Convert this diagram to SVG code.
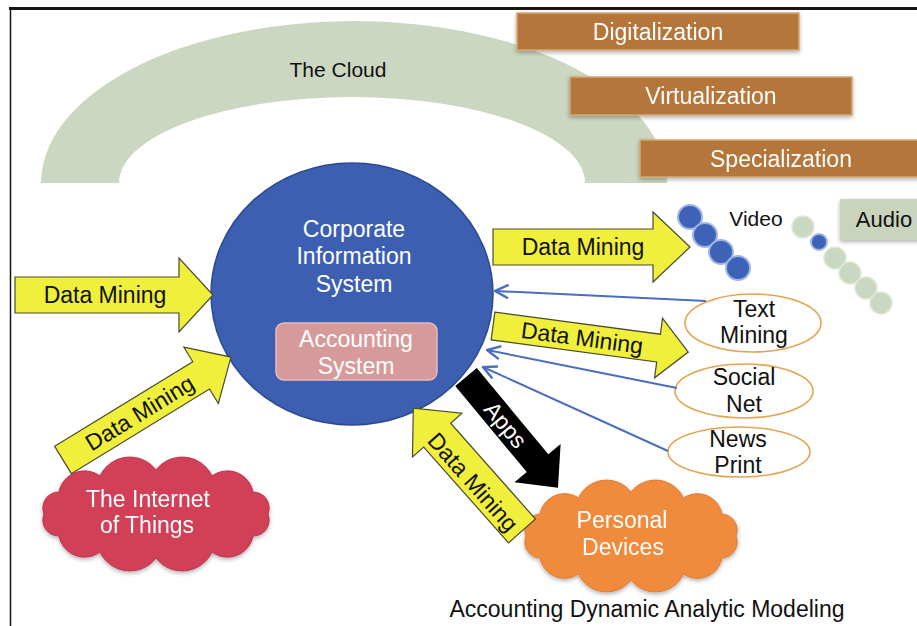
<svg xmlns="http://www.w3.org/2000/svg" width="917" height="626" viewBox="0 0 917 626">
  <style>
    text { font-family: "Liberation Sans", Arial, sans-serif; }
    .lbl { font-size: 23px; text-anchor: middle; }
    .white { fill: #ffffff; }
    .dark { fill: #111111; }
    .yarrow { fill: #f0ef3c; stroke: #4a4a30; stroke-width: 1.2; }
    .brown { fill: #b4763b; stroke: #d2a878; stroke-width: 1.5; }
    .oval { fill: #ffffff; stroke: #e2a552; stroke-width: 1.6; }
    .feed { fill: none; stroke: #4a6dbd; stroke-width: 2; }
    .bdot { fill: #3e62b8; stroke: #9db5e8; stroke-width: 2; }
    .gdot { fill: #c9d8c1; stroke: #dfe8d9; stroke-width: 1.5; }
  </style>
  <defs>
    <filter id="shadow" x="-10%" y="-10%" width="120%" height="130%">
      <feDropShadow dx="0" dy="2" stdDeviation="2" flood-color="#000000" flood-opacity="0.3"/>
    </filter>
    <marker id="open" markerUnits="userSpaceOnUse" markerWidth="16" markerHeight="16" viewBox="0 0 12 12" refX="11" refY="6" orient="auto">
      <path d="M1,1 L11,6 L1,11" fill="none" stroke="#4a6dbd" stroke-width="1.8"/>
    </marker>
  </defs>

  <rect x="0" y="0" width="917" height="626" fill="#ffffff"/>

  <!-- frame edges -->
  <line x1="9" y1="8.5" x2="917" y2="8.5" stroke="#151515" stroke-width="3"/>
  <line x1="10.5" y1="8" x2="10.5" y2="626" stroke="#151515" stroke-width="1.5"/>

  <!-- the cloud arch -->
  <g id="cloud-arch">
    <path d="M41,183 A313,162 0 0 1 667,183 L585,183 A233,86 0 0 0 119,183 Z" fill="#cbd7c1"/>
    <text class="dark" x="338" y="77" font-size="21" text-anchor="middle">The Cloud</text>
  </g>

  <g id="digitalization" filter="url(#shadow)">
    <rect class="brown" x="517" y="13" width="282" height="37"/>
    <text class="lbl white" x="658" y="40">Digitalization</text>
  </g>
  <g id="virtualization" filter="url(#shadow)">
    <rect class="brown" x="570" y="77" width="282" height="38"/>
    <text class="lbl white" x="711" y="104">Virtualization</text>
  </g>
  <g id="specialization" filter="url(#shadow)">
    <rect class="brown" x="640" y="140" width="290" height="37"/>
    <text class="lbl white" x="781" y="167">Specialization</text>
  </g>

  <!-- media sources -->
  <g id="video">
    <circle class="bdot" cx="690" cy="217" r="12"/>
    <circle class="bdot" cx="705" cy="235" r="12"/>
    <circle class="bdot" cx="721" cy="252" r="12"/>
    <circle class="bdot" cx="738" cy="268" r="12"/>
    <text class="dark" x="756" y="226" font-size="21" text-anchor="middle">Video</text>
  </g>
  <g id="audio">
    <circle class="gdot" cx="803" cy="227" r="11"/>
    <circle class="bdot" cx="819" cy="242" r="8"/>
    <circle class="gdot" cx="835" cy="258" r="11"/>
    <circle class="gdot" cx="850" cy="273" r="11"/>
    <circle class="gdot" cx="866" cy="288" r="11"/>
    <circle class="gdot" cx="881" cy="303" r="11"/>
    <rect x="840" y="199" width="90" height="41" fill="#c9d4bd" filter="url(#shadow)"/>
    <text class="dark" x="884" y="227" font-size="22" text-anchor="middle">Audio</text>
  </g>

  <!-- central system -->
  <g id="corporate-information-system">
    <ellipse cx="352" cy="294" rx="141" ry="131" fill="#3c5fb1" stroke="#2d4a8f" stroke-width="1.5"/>
    <text class="lbl white" x="354" y="237">Corporate</text>
    <text class="lbl white" x="354" y="264">Information</text>
    <text class="lbl white" x="354" y="292">System</text>
  </g>
  <g id="accounting-system">
    <rect x="276" y="323" width="161" height="57" rx="8" fill="#d69a9b" stroke="#e8bcbc" stroke-width="1.5"/>
    <text class="lbl white" x="356" y="347">Accounting</text>
    <text class="lbl white" x="356" y="374">System</text>
  </g>

  <!-- text sources -->
  <g id="text-mining">
    <ellipse class="oval" cx="753" cy="323" rx="68" ry="29"/>
    <text class="lbl dark" x="754" y="317">Text</text>
    <text class="lbl dark" x="754" y="343">Mining</text>
  </g>
  <g id="social-net">
    <ellipse class="oval" cx="744" cy="391" rx="69" ry="27"/>
    <text class="lbl dark" x="744" y="385">Social</text>
    <text class="lbl dark" x="744" y="412">Net</text>
  </g>
  <g id="news-print">
    <ellipse class="oval" cx="739" cy="452" rx="71" ry="25"/>
    <text class="lbl dark" x="738" y="447">News</text>
    <text class="lbl dark" x="738" y="473">Print</text>
  </g>

  <!-- clouds -->
  <g id="internet-of-things" filter="url(#shadow)">
    <path d="M44,514 A16,16 0 0 1 59,492 A26,26 0 0 1 100,476 A33,33 0 0 1 156,470 A33,33 0 0 1 212,476 A26,26 0 0 1 253,492 A16,16 0 0 1 268,514 A16,16 0 0 1 253,536 A26,26 0 0 1 212,552 A33,33 0 0 1 156,558 A33,33 0 0 1 100,552 A26,26 0 0 1 59,536 A16,16 0 0 1 44,514 Z" fill="#d23f58" stroke="#b8324a" stroke-width="1"/>
    <text class="lbl white" x="148" y="507">The Internet</text>
    <text class="lbl white" x="147" y="533">of Things</text>
  </g>
  <g id="personal-devices" filter="url(#shadow)">
    <path d="M526,536 A16,16 0 0 1 540,514 A25,25 0 0 1 578.5,498 A31,31 0 0 1 631,492 A31,31 0 0 1 683.5,498 A25,25 0 0 1 722,514 A16,16 0 0 1 736,536 A16,16 0 0 1 722,558 A25,25 0 0 1 683.5,574 A31,31 0 0 1 631,580 A31,31 0 0 1 578.5,574 A25,25 0 0 1 540,558 A16,16 0 0 1 526,536 Z" fill="#f08a3c" stroke="#e07a30" stroke-width="1"/>
    <text class="lbl white" x="622" y="528">Personal</text>
    <text class="lbl white" x="623" y="555">Devices</text>
  </g>

  <!-- connectors -->
  <g id="connectors">
    <line class="feed" x1="706" y1="301" x2="495" y2="291" marker-end="url(#open)"/>
    <line class="feed" x1="677" y1="388" x2="487" y2="350" marker-end="url(#open)"/>
    <line class="feed" x1="668" y1="451" x2="483" y2="367" marker-end="url(#open)"/>

    <g transform="translate(15,295)">
      <path class="yarrow" d="M0,-18 H164 V-37 L198,0 L164,37 V18 H0 Z"/>
      <text class="lbl dark" x="90" y="8">Data Mining</text>
    </g>
    <g transform="translate(493,247)">
      <path class="yarrow" d="M0,-18 H160 V-35 L197,0 L160,35 V18 H0 Z"/>
      <text class="lbl dark" x="90" y="8">Data Mining</text>
    </g>
    <g transform="translate(493,326) rotate(7.6)">
      <path class="yarrow" d="M0,-14 H167 V-30 L197,0 L167,30 V14 H0 Z"/>
      <text class="lbl dark" x="90" y="8">Data Mining</text>
    </g>
    <g transform="translate(63,460) rotate(-31.5)">
      <path class="yarrow" d="M0,-16 H162 V-33 L197,0 L162,33 V16 H0 Z"/>
      <text class="lbl dark" x="90" y="8">Data Mining</text>
    </g>
    <g transform="translate(522,531) rotate(228.5)">
      <path class="yarrow" d="M0,-18 H128 V-33 L164,0 L128,33 V18 H0 Z"/>
    </g>
    <text class="lbl dark" transform="translate(473,482) rotate(48.5)" x="0" y="8">Data Mining</text>
    <g transform="translate(466,377) rotate(50.3)">
      <path d="M0,-14 H112 V-30 L144,0 L112,30 V14 H0 Z" fill="#000000"/>
      <text class="lbl white" x="62" y="8">Apps</text>
    </g>
  </g>

  <text id="caption" class="lbl dark" x="647" y="617">Accounting Dynamic Analytic Modeling</text>
</svg>
